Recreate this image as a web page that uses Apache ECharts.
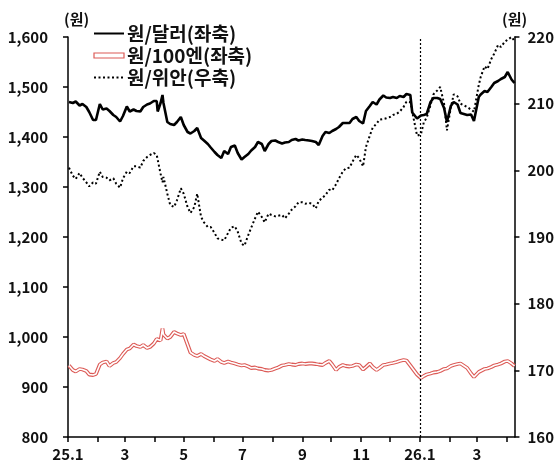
<!DOCTYPE html>
<html>
<head>
<meta charset="utf-8">
<script src="https://cdn.jsdelivr.net/npm/echarts@6/dist/echarts.min.js"></script>
<style>
  html, body { margin: 0; padding: 0; background: #fff; }
  #chart { width: 557px; height: 468px; }
</style>
</head>
<body>
<div id="chart"></div>
<script>
// ---- Data ----
const dates = [
  '2025-01-02','2025-01-06','2025-01-09','2025-01-13','2025-01-16','2025-01-20','2025-01-23','2025-01-27','2025-01-30',
  '2025-02-03','2025-02-06','2025-02-10','2025-02-13','2025-02-17','2025-02-20','2025-02-24','2025-02-27',
  '2025-03-03','2025-03-06','2025-03-10','2025-03-13','2025-03-17','2025-03-20','2025-03-24','2025-03-27','2025-03-31',
  '2025-04-03','2025-04-04','2025-04-07','2025-04-09','2025-04-10','2025-04-14','2025-04-17','2025-04-21','2025-04-24','2025-04-28',
  '2025-05-01','2025-05-05','2025-05-08','2025-05-12','2025-05-15','2025-05-19','2025-05-22','2025-05-26','2025-05-29',
  '2025-06-02','2025-06-05','2025-06-09','2025-06-12','2025-06-16','2025-06-19','2025-06-23','2025-06-26','2025-06-30',
  '2025-07-03','2025-07-07','2025-07-10','2025-07-14','2025-07-17','2025-07-21','2025-07-24','2025-07-28','2025-07-31',
  '2025-08-04','2025-08-07','2025-08-11','2025-08-14','2025-08-18','2025-08-21','2025-08-25','2025-08-28',
  '2025-09-01','2025-09-04','2025-09-08','2025-09-11','2025-09-15','2025-09-18','2025-09-22','2025-09-25','2025-09-29',
  '2025-10-02','2025-10-06','2025-10-09','2025-10-13','2025-10-16','2025-10-20','2025-10-23','2025-10-27','2025-10-30',
  '2025-11-03','2025-11-06','2025-11-10','2025-11-13','2025-11-17','2025-11-20','2025-11-24','2025-11-27',
  '2025-12-01','2025-12-04','2025-12-08','2025-12-11','2025-12-15','2025-12-18','2025-12-22','2025-12-23','2025-12-24','2025-12-29',
  '2026-01-02','2026-01-05','2026-01-08','2026-01-12','2026-01-15','2026-01-19','2026-01-22','2026-01-26','2026-01-29',
  '2026-02-02','2026-02-05','2026-02-09','2026-02-12','2026-02-19','2026-02-23','2026-02-26',
  '2026-03-03','2026-03-05','2026-03-09','2026-03-12','2026-03-16','2026-03-19','2026-03-23','2026-03-26','2026-03-30',
  '2026-04-02','2026-04-06','2026-04-09'
];

// 원/달러 (left axis)
const usd = [
  1470,1468,1471,1463,1466,1460,1450,1434,1434,
  1466,1455,1457,1452,1444,1440,1431,1442,
  1461,1451,1455,1452,1451,1460,1465,1467,1472,
  1472,1451,1468,1484,1468,1430,1426,1424,1430,1440,
  1424,1410,1407,1412,1418,1398,1393,1386,1379,
  1370,1364,1358,1372,1366,1380,1383,1368,1355,
  1360,1366,1373,1380,1390,1386,1372,1386,1392,
  1393,1390,1387,1389,1390,1394,1396,1393,
  1395,1394,1393,1392,1390,1384,1402,1410,1408,
  1412,1416,1420,1428,1428,1428,1436,1440,1432,
  1427,1452,1462,1470,1465,1475,1483,1479,
  1478,1480,1478,1482,1480,1486,1484,1488,1449,1437,
  1443,1444,1446,1470,1478,1478,1476,1458,1430,
  1462,1470,1465,1448,1444,1445,1432,
  1480,1485,1492,1490,1500,1508,1512,1516,1520,
  1530,1515,1508
];

// 원/100엔 (left axis)
const jpy = [
  943,934,931,936,935,932,925,924,926,
  945,949,951,942,948,950,958,966,
  975,977,985,982,980,984,978,980,987,
  996,992,993,1017,1005,997,1000,1010,1007,1004,
  1006,985,969,964,962,966,962,958,955,
  952,956,950,948,951,949,947,945,943,
  944,941,938,939,937,936,934,933,934,
  937,939,943,944,946,945,944,946,
  947,946,947,947,946,945,944,948,952,
  945,934,940,944,942,941,942,945,944,
  935,940,947,940,934,938,944,945,
  947,948,950,952,954,953,943,947,945,925,
  918,922,925,927,929,930,932,936,937,
  942,944,946,947,938,927,920,
  930,932,936,937,940,943,945,947,951,
  952,947,942
];

// 원/위안 (right axis)
const cny = [
  200.4,199.2,198.7,199.6,198.9,198.2,197.6,198.2,198.0,
  199.8,199.0,198.9,198.5,198.8,198.0,197.4,198.8,
  199.8,199.6,200.6,200.6,200.4,201.4,202.0,202.3,202.6,
  202.3,201.6,199.5,198.2,199.0,196.5,194.8,194.5,195.5,197.3,
  196.5,194.5,193.6,194.5,196.5,193.0,192.2,191.5,191.5,
  190.6,189.8,189.6,189.5,190.6,191.4,191.6,190.8,189.0,
  188.7,190.3,191.4,192.8,193.8,193.0,192.2,193.5,193.3,
  193.1,193.2,193.3,192.8,193.5,194.1,194.6,195.2,
  195.2,195.0,195.1,195.0,194.3,195.4,195.9,196.3,197.1,
  197.0,197.9,198.8,199.8,200.3,200.4,201.3,202.3,201.8,
  200.6,203.5,205.2,206.4,207.0,207.6,207.7,207.8,
  208.0,208.3,208.5,208.8,209.5,210.3,210.2,209.6,208.8,205.2,
  205.4,207.2,207.9,209.8,211.4,212.0,212.5,210.0,206.0,
  209.4,211.4,211.1,210.0,209.5,209.1,208.8,
  212.8,214.0,215.6,215.2,216.7,217.5,218.8,218.5,219.3,
  219.6,220.0,219.4
];

const seriesNames = ['원/달러(좌축)', '원/100엔(좌축)', '원/위안(우축)'];
const unitLabel = '(원)';

// X axis ticks (month starts) and labels
const xTickDates = [
  '2025-01-01','2025-02-01','2025-03-01','2025-04-01','2025-05-01','2025-06-01','2025-07-01','2025-08-01',
  '2025-09-01','2025-10-01','2025-11-01','2025-12-01','2026-01-01','2026-02-01','2026-03-01','2026-04-01'
];
const xLabelDates = ['2025-01-01','2025-03-01','2025-05-01','2025-07-01','2025-09-01','2025-11-01','2026-01-01','2026-03-01'];
const xLabelTexts = ['25.1','3','5','7','9','11','26.1','3'];
const xMin = '2025-01-01';
const xMax = '2026-04-09';
const refLineDate = '2026-01-01';

// ---- Build: dates -> day offsets from xMin (calendar positions) ----
function dayOf(s) {
  const p = s.split('-').map(Number);
  const q = xMin.split('-').map(Number);
  return Math.round((Date.UTC(p[0], p[1] - 1, p[2]) - Date.UTC(q[0], q[1] - 1, q[2])) / 86400000);
}
const labelDays = xLabelDates.map(dayOf);

const FONT = "'Noto Sans CJK KR', 'Noto Sans', sans-serif";
const RED = '#dc5a56';
const BLACK = '#000';

const chart = echarts.init(document.getElementById('chart'), null, { renderer: 'canvas' });

const axisText = { fontSize: 15, color: '#111', fontFamily: FONT, fontWeight: 'bold' };

function pairs(arr) { return dates.map(function (d, i) { return [dayOf(d), arr[i]]; }); }

const option = {
  animation: false,
  backgroundColor: '#fff',
  grid: { left: 68, right: 42, top: 37, bottom: 31, containLabel: false },
  legend: {
    orient: 'vertical',
    left: 93,
    top: 24,
    padding: 0,
    itemWidth: 30,
    itemHeight: 5,
    itemGap: 3,
    textStyle: { fontSize: 19, color: '#111', fontFamily: FONT, fontWeight: 'bold', padding: [0, 0, 0, -2] },
    data: [
      { name: seriesNames[0], itemStyle: { opacity: 0 } },
      { name: seriesNames[1], icon: 'rect', itemStyle: { color: '#fff', borderColor: RED, borderWidth: 1.2 } },
      { name: seriesNames[2], itemStyle: { opacity: 0 } }
    ]
  },
  xAxis: {
    type: 'value',
    min: 0,
    max: dayOf(xMax),
    axisLine: { show: true, onZero: false, lineStyle: { color: BLACK, width: 1.5 } },
    axisTick: { show: true, customValues: xTickDates.map(dayOf), length: 5, lineStyle: { color: BLACK, width: 1.5 } },
    axisLabel: Object.assign({
      customValues: labelDays,
      margin: 10,
      formatter: function (v) { const i = labelDays.indexOf(v); return i >= 0 ? xLabelTexts[i] : ''; }
    }, axisText),
    splitLine: { show: false }
  },
  yAxis: [
    {
      type: 'value', position: 'left', min: 800, max: 1600, interval: 100,
      axisLine: { show: true, lineStyle: { color: BLACK, width: 1.5 } },
      axisTick: { show: true, length: 5, lineStyle: { color: BLACK, width: 1.5 } },
      axisLabel: Object.assign({ margin: 20, formatter: function (v) { return v.toLocaleString('en-US'); } }, axisText),
      splitLine: { show: false }
    },
    {
      type: 'value', position: 'right', min: 160, max: 220, interval: 10,
      axisLine: { show: true, lineStyle: { color: BLACK, width: 1.5 } },
      axisTick: { show: true, length: 5, lineStyle: { color: BLACK, width: 1.5 } },
      axisLabel: Object.assign({ margin: 13 }, axisText),
      splitLine: { show: false }
    }
  ],
  graphic: [
    { type: 'text', left: 64, top: 12, style: { text: unitLabel, fontSize: 15, fontWeight: 'bold', fill: '#111', fontFamily: FONT } },
    { type: 'text', left: 502, top: 12, style: { text: unitLabel, fontSize: 15, fontWeight: 'bold', fill: '#111', fontFamily: FONT } }
  ],
  series: [
    {
      name: seriesNames[2], type: 'line', yAxisIndex: 1, showSymbol: false, symbol: 'none',
      data: pairs(cny),
      lineStyle: { color: BLACK, width: 2, type: [2, 2.5] },
      itemStyle: { color: BLACK },
      z: 3
    },
    {
      name: seriesNames[1], type: 'line', yAxisIndex: 0, showSymbol: false, symbol: 'none',
      data: pairs(jpy),
      lineStyle: { color: RED, width: 3.8 },
      itemStyle: { color: RED },
      z: 2
    },
    {
      name: 'jpy-inner', type: 'line', yAxisIndex: 0, showSymbol: false, symbol: 'none',
      data: pairs(jpy),
      lineStyle: { color: '#fff', width: 1.6 },
      itemStyle: { color: '#fff' },
      z: 2,
      silent: true
    },
    {
      name: seriesNames[0], type: 'line', yAxisIndex: 0, showSymbol: false, symbol: 'none',
      data: pairs(usd),
      lineStyle: { color: BLACK, width: 2.6 },
      itemStyle: { color: BLACK },
      z: 4,
      markLine: {
        silent: true, symbol: 'none', label: { show: false },
        lineStyle: { color: BLACK, width: 1.2, type: [2, 2] },
        data: [{ xAxis: dayOf(refLineDate) }]
      }
    }
  ]
};
chart.setOption(option);
</script>
</body>
</html>
